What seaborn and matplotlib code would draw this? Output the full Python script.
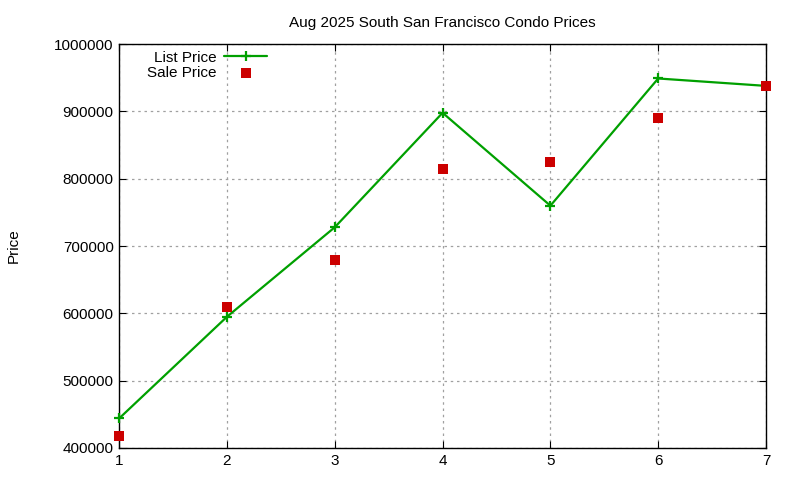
import matplotlib
matplotlib.use("Agg")
import matplotlib.pyplot as plt
import pandas as pd
import seaborn as sns

# valores
meses = [1, 2, 3, 4, 5, 6, 7]
list_price = [444000, 595000, 728000, 898000, 760000, 949000, 938000]
sale_price = [418000, 609000, 680000, 815000, 825000, 890000, 938000]

datos = pd.DataFrame({"x": meses, "list": list_price, "sale": sale_price})

sns.set_style("ticks")
plt.rcParams["font.family"] = ["Liberation Sans", "DejaVu Sans"]
plt.rcParams["text.color"] = "black"
plt.rcParams["xtick.color"] = "black"
plt.rcParams["ytick.color"] = "black"
plt.rcParams["axes.labelcolor"] = "black"

fig, ax = plt.subplots(figsize=(8, 4.8), dpi=100)
fig.subplots_adjust(left=0.149, right=0.9575, top=0.908, bottom=0.0667)

sns.lineplot(data=datos, x="x", y="list", ax=ax, color="#00a000", linewidth=1.6,
             marker="+", markersize=7, markeredgewidth=1.6, markeredgecolor="#00a000",
             label="List Price", clip_on=False, zorder=4)
sns.scatterplot(data=datos, x="x", y="sale", ax=ax, color="#cc0000", marker="s",
                s=50, linewidth=0, label="Sale Price", zorder=5, clip_on=False)

ax.set_xlim(1, 7)
ax.set_ylim(400000, 1000000)
ax.set_xticks(meses)
ax.set_yticks(range(400000, 1000001, 100000))
ax.set_yticklabels([str(v) for v in range(400000, 1000001, 100000)])
ax.grid(True, color="#a0a0a0", linestyle=(0, (2, 3)), linewidth=0.9)
ax.tick_params(direction="in", top=True, right=True, labelsize=11, length=5, pad=4)
for s in ax.spines.values():
    s.set_linewidth(1.0)
    s.set_color("black")

ax.set_xlabel("")
ax.set_ylabel("Price", fontsize=11, labelpad=24)
ax.set_title("Aug 2025 South San Francisco Condo Prices", fontsize=11, pad=12)

ax.legend(loc="upper left", bbox_to_anchor=(0.027, 1.01), frameon=False, markerfirst=False,
          fontsize=11, handlelength=2.8, handletextpad=0.5, labelspacing=0.05,
          borderaxespad=0.3)

fig.savefig("out.png", dpi=100)
